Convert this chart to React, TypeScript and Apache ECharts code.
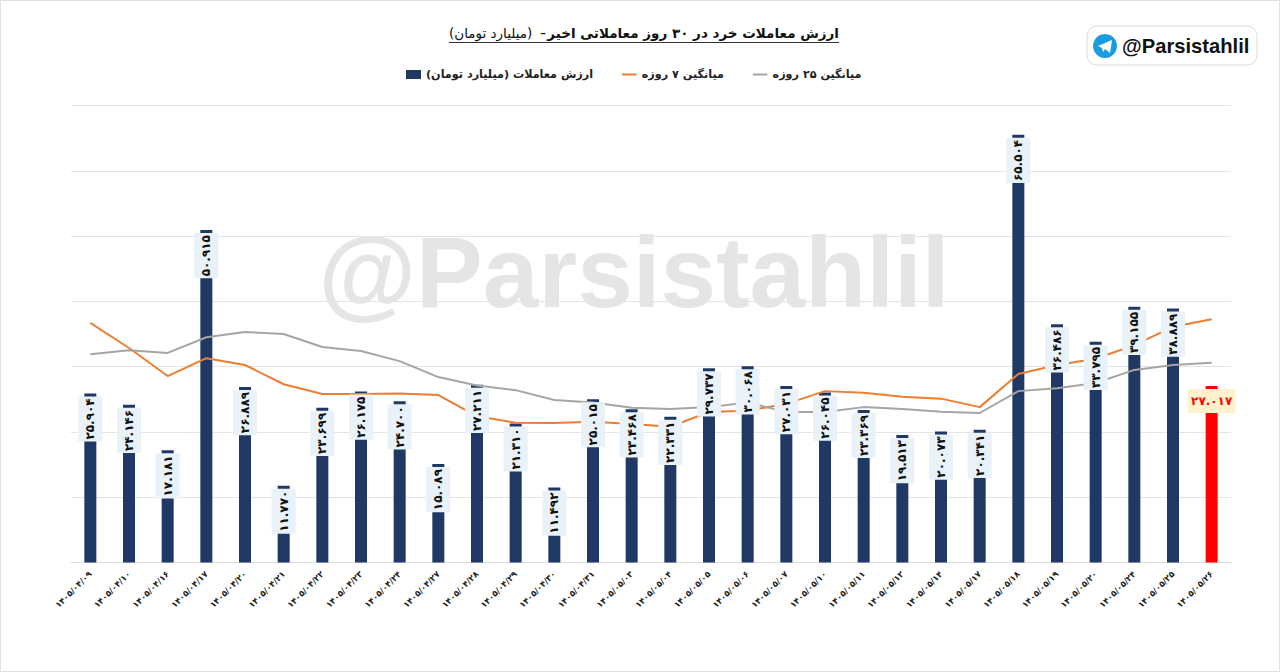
import React, { useEffect, useRef } from "react";
import * as echarts from "echarts";

const categories = ["1405/04/09","1405/04/10","1405/04/16","1405/04/17","1405/04/20","1405/04/21","1405/04/22","1405/04/23","1405/04/24","1405/04/27","1405/04/28","1405/04/29","1405/04/30","1405/04/31","1405/05/03","1405/05/04","1405/05/05","1405/05/06","1405/05/07","1405/05/10","1405/05/11","1405/05/12","1405/05/14","1405/05/17","1405/05/18","1405/05/19","1405/05/20","1405/05/24","1405/05/25","1405/05/26"];
const tradeValue = [25.904,24.146,17.181,50.915,26.889,11.77,23.699,26.175,24.7,15.089,27.211,21.31,11.492,25.015,23.468,22.331,29.737,30.068,27.031,26.045,23.369,19.513,20.073,20.341,65.504,36.486,33.795,39.155,38.889,27.017];
const avg7 = [36.7,32.85,28.56,31.3,30.25,27.3,25.8,25.8,25.9,25.65,22.4,21.4,21.36,21.56,21.2,20.8,23.05,23.25,24.3,26.25,26.0,25.4,25.1,23.8,28.87,30.25,31.2,33.3,36.1,37.25];
const avg25 = [31.9,32.5,32.1,34.5,35.3,35.0,33.0,32.4,30.85,28.4,27.1,26.4,24.9,24.5,23.7,23.5,23.8,24.5,23.05,23.05,23.8,23.5,23.1,22.9,26.25,26.7,27.5,29.5,30.25,30.6];
const titleMain = "ارزش معاملات خرد در ۳۰ روز معاملاتی اخیر";
const titleDash = "–";
const titleSub = "(میلیارد تومان)";
const barName = "ارزش معاملات (میلیارد تومان)";
const avg7Name = "میانگین ۷ روزه";
const avg25Name = "میانگین ۲۵ روزه";
const handle = "@Parsistahlil";

const FA = "DejaVu Sans, Noto Sans, sans-serif";
const toFa = (s: string) => s.replace(/\d/g, (d) => "۰۱۲۳۴۵۶۷۸۹"[+d]);
const lastIdx = tradeValue.length - 1;
const LINE_ICON = "path://M0 0L0.01 0Z M0 4H16V6H0Z M0 10L0.01 10Z";

export default function App() {
  const ref = useRef<HTMLDivElement>(null);
  useEffect(() => {
    document.body.style.margin = "0";
    const chart = echarts.init(ref.current!, null, { renderer: "svg" });
    chart.setOption({
      animation: false,
      backgroundColor: "#fff",
      title: { show: false },
      legend: {
        data: [{ name: barName, icon: "rect" }, { name: avg7Name, icon: LINE_ICON }, { name: avg25Name, icon: LINE_ICON }],
        top: 64, left: 401, itemWidth: 15, itemHeight: 9, itemGap: 29,
        textStyle: { fontFamily: FA, fontSize: 11.2, fontWeight: "bold", color: "#222" },
      },
      grid: { left: 71, right: 49, top: 105.5, bottom: 109.5 },
      xAxis: {
        type: "category", data: categories,
        axisLine: { lineStyle: { color: "#dedede", width: 1 } },
        axisTick: { show: false },
        axisLabel: { rotate: 45, fontFamily: FA, fontSize: 8.5, fontWeight: "bold", color: "#222", interval: 0, margin: 10, formatter: (v: string) => toFa(v) },
      },
      yAxis: {
        type: "value", min: 0, max: 70, interval: 10,
        axisLabel: { show: false }, axisLine: { show: false }, axisTick: { show: false },
        splitLine: { lineStyle: { color: "#e4e4e4", width: 1 } },
      },
      series: [
        {
          name: barName, type: "bar", z: 2, barWidth: 12, barGap: "-100%",
          data: tradeValue.map((v, i) => (i === lastIdx ? { value: v, itemStyle: { color: "#FF0000" } } : v)),
          itemStyle: { color: "#1F3864" },
        },
        { name: avg7Name, type: "line", z: 3, data: avg7, symbol: "none", smooth: false, lineStyle: { color: "#ED7D31", width: 2 }, itemStyle: { color: "#ED7D31" } },
        { name: avg25Name, type: "line", z: 3, data: avg25, symbol: "none", smooth: false, lineStyle: { color: "#A5A5A5", width: 2 }, itemStyle: { color: "#A5A5A5" } },
        {
          name: "labels", type: "bar", z: 5, barWidth: 12, barGap: "-100%",
          itemStyle: { color: "transparent" },
          tooltip: { show: false },
          data: tradeValue.map((v, i) => i === lastIdx ? {
            value: v,
            label: { rotate: 0, align: "center", verticalAlign: "top", distance: 3, color: "#FF0000", fontSize: 12, backgroundColor: "#FFF2CC", padding: [6, 3, 6, 3] },
          } : v),
          label: {
            show: true, position: "insideTop", distance: 3, rotate: 90, align: "right", verticalAlign: "middle",
            fontFamily: FA, fontSize: 12, fontWeight: "bold", color: "#111",
            backgroundColor: "#E9F1F9", padding: [6, 2, 6, 2],
            formatter: (p: any) => toFa(p.value.toFixed(3)),
          },
        },
      ],
      graphic: [
        { type: "text", z: 0, silent: true, x: 634, y: 272, style: { text: handle, fontFamily: "Liberation Sans", fontWeight: "bold", fontSize: 100, fill: "#e5e5e5", align: "center", verticalAlign: "middle" } },
        { type: "text", x: 839, y: 33, style: { text: titleMain, fontFamily: FA, fontWeight: "bold", fontSize: 13.5, fill: "#111", align: "right", verticalAlign: "middle" } },
        { type: "text", x: 543, y: 33, style: { text: titleDash, fontFamily: FA, fontWeight: "bold", fontSize: 11, fill: "#111", align: "center", verticalAlign: "middle" } },
        { type: "text", x: 449, y: 33, style: { text: titleSub, fontFamily: FA, fontSize: 13.5, fill: "#111", align: "left", verticalAlign: "middle" } },
        { type: "line", shape: { x1: 449, y1: 42.5, x2: 839, y2: 42.5 }, style: { stroke: "#333", lineWidth: 1 } },
        { type: "rect", shape: { x: 1087, y: 26, width: 170, height: 39, r: 10 }, style: { fill: "#fff", stroke: "#dddddd", lineWidth: 1 } },
        { type: "circle", shape: { cx: 1105, cy: 46, r: 12 }, style: { fill: "#1C9CE0" } },
        { type: "polygon", shape: { points: [[1098, 46], [1112, 40], [1110, 53], [1105, 49], [1103, 52], [1102, 48]] }, style: { fill: "#fff" } },
        { type: "text", x: 1122, y: 46, style: { text: handle, fontFamily: "Liberation Sans", fontSize: 20.2, fontWeight: "bold", fill: "#111", align: "left", verticalAlign: "middle" } },
        { type: "rect", shape: { x: 0.5, y: 0.5, width: 1279, height: 671 }, style: { fill: "none", stroke: "#e0e0e0", lineWidth: 1 } },
      ],
    });
    return () => chart.dispose();
  }, []);
  return <div ref={ref} style={{ width: 1280, height: 672 }} />;
}
